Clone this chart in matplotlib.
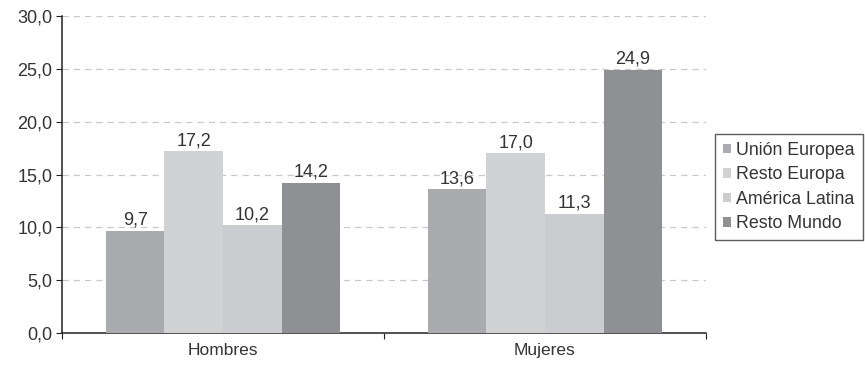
import matplotlib
matplotlib.use("Agg")
import matplotlib.pyplot as plt
import numpy as np
from matplotlib.ticker import FixedLocator, FuncFormatter

plt.rcParams['font.family'] = ['Liberation Sans', 'DejaVu Sans']

categories = ["Hombres", "Mujeres"]
series_names = ["Unión Europea", "Resto Europa", "América Latina", "Resto Mundo"]
values = {
    "Unión Europea": [9.7, 13.6],
    "Resto Europa": [17.2, 17.0],
    "América Latina": [10.2, 11.3],
    "Resto Mundo": [14.2, 24.9],
}
colors = ["#aaabae", "#d1d2d4", "#cbcccf", "#8f9094"]
yticks = [0, 5, 10, 15, 20, 25, 30]

txt = "#333333"
fig = plt.figure(figsize=(8.65, 3.68), dpi=100)
ax = fig.add_axes([62/865, 35/368, 644/865, 317/368])

x = np.arange(len(categories))
w = 0.182
for i, name in enumerate(series_names):
    pos = x + (i - 1.5) * w
    bars = ax.bar(pos, values[name], width=w, color=colors[i], label=name, zorder=3)
    for b, v in zip(bars, values[name]):
        ax.text(b.get_x() + b.get_width()/2, v + 0.2, f"{v:.1f}".replace(".", ","),
                ha="center", va="bottom", fontsize=13, color=txt, zorder=4)

ax.set_xlim(-0.5, 1.5)
ax.set_ylim(0, 30)
ax.yaxis.set_major_locator(FixedLocator(yticks))
ax.yaxis.set_major_formatter(FuncFormatter(lambda v, p: f"{v:.1f}".replace(".", ",")))
ax.grid(axis="y", color="#c8c8c8", linestyle=(0, (5, 4)), linewidth=0.9, zorder=0)
ax.set_xticks([-0.5, 0.5, 1.5])
ax.set_xticklabels([])
ax.set_xticks(x, minor=True)
ax.set_xticklabels(categories, minor=True)
ax.tick_params(axis="x", which="minor", length=0, pad=7, labelsize=12.5, labelcolor=txt)
ax.tick_params(axis="x", which="major", length=4, color="#222222", direction="out")
ax.tick_params(axis="y", length=4, color="#222222", labelsize=13, labelcolor=txt, pad=3)
for s in ["top", "right"]:
    ax.spines[s].set_visible(False)
for s in ["left", "bottom"]:
    ax.spines[s].set_color("#222222")
    ax.spines[s].set_linewidth(1.1)

leg = fig.legend(loc="upper left", bbox_to_anchor=(715/865, 1 - 134/368), fontsize=12.8,
                 frameon=True, fancybox=False, edgecolor="#333333", handlelength=0.45,
                 handleheight=0.45, handletextpad=0.3, borderpad=0.45, labelspacing=0.42,
                 borderaxespad=0)
leg.get_frame().set_linewidth(1.0)
for t in leg.get_texts():
    t.set_color(txt)

fig.savefig("out.png", dpi=100)
